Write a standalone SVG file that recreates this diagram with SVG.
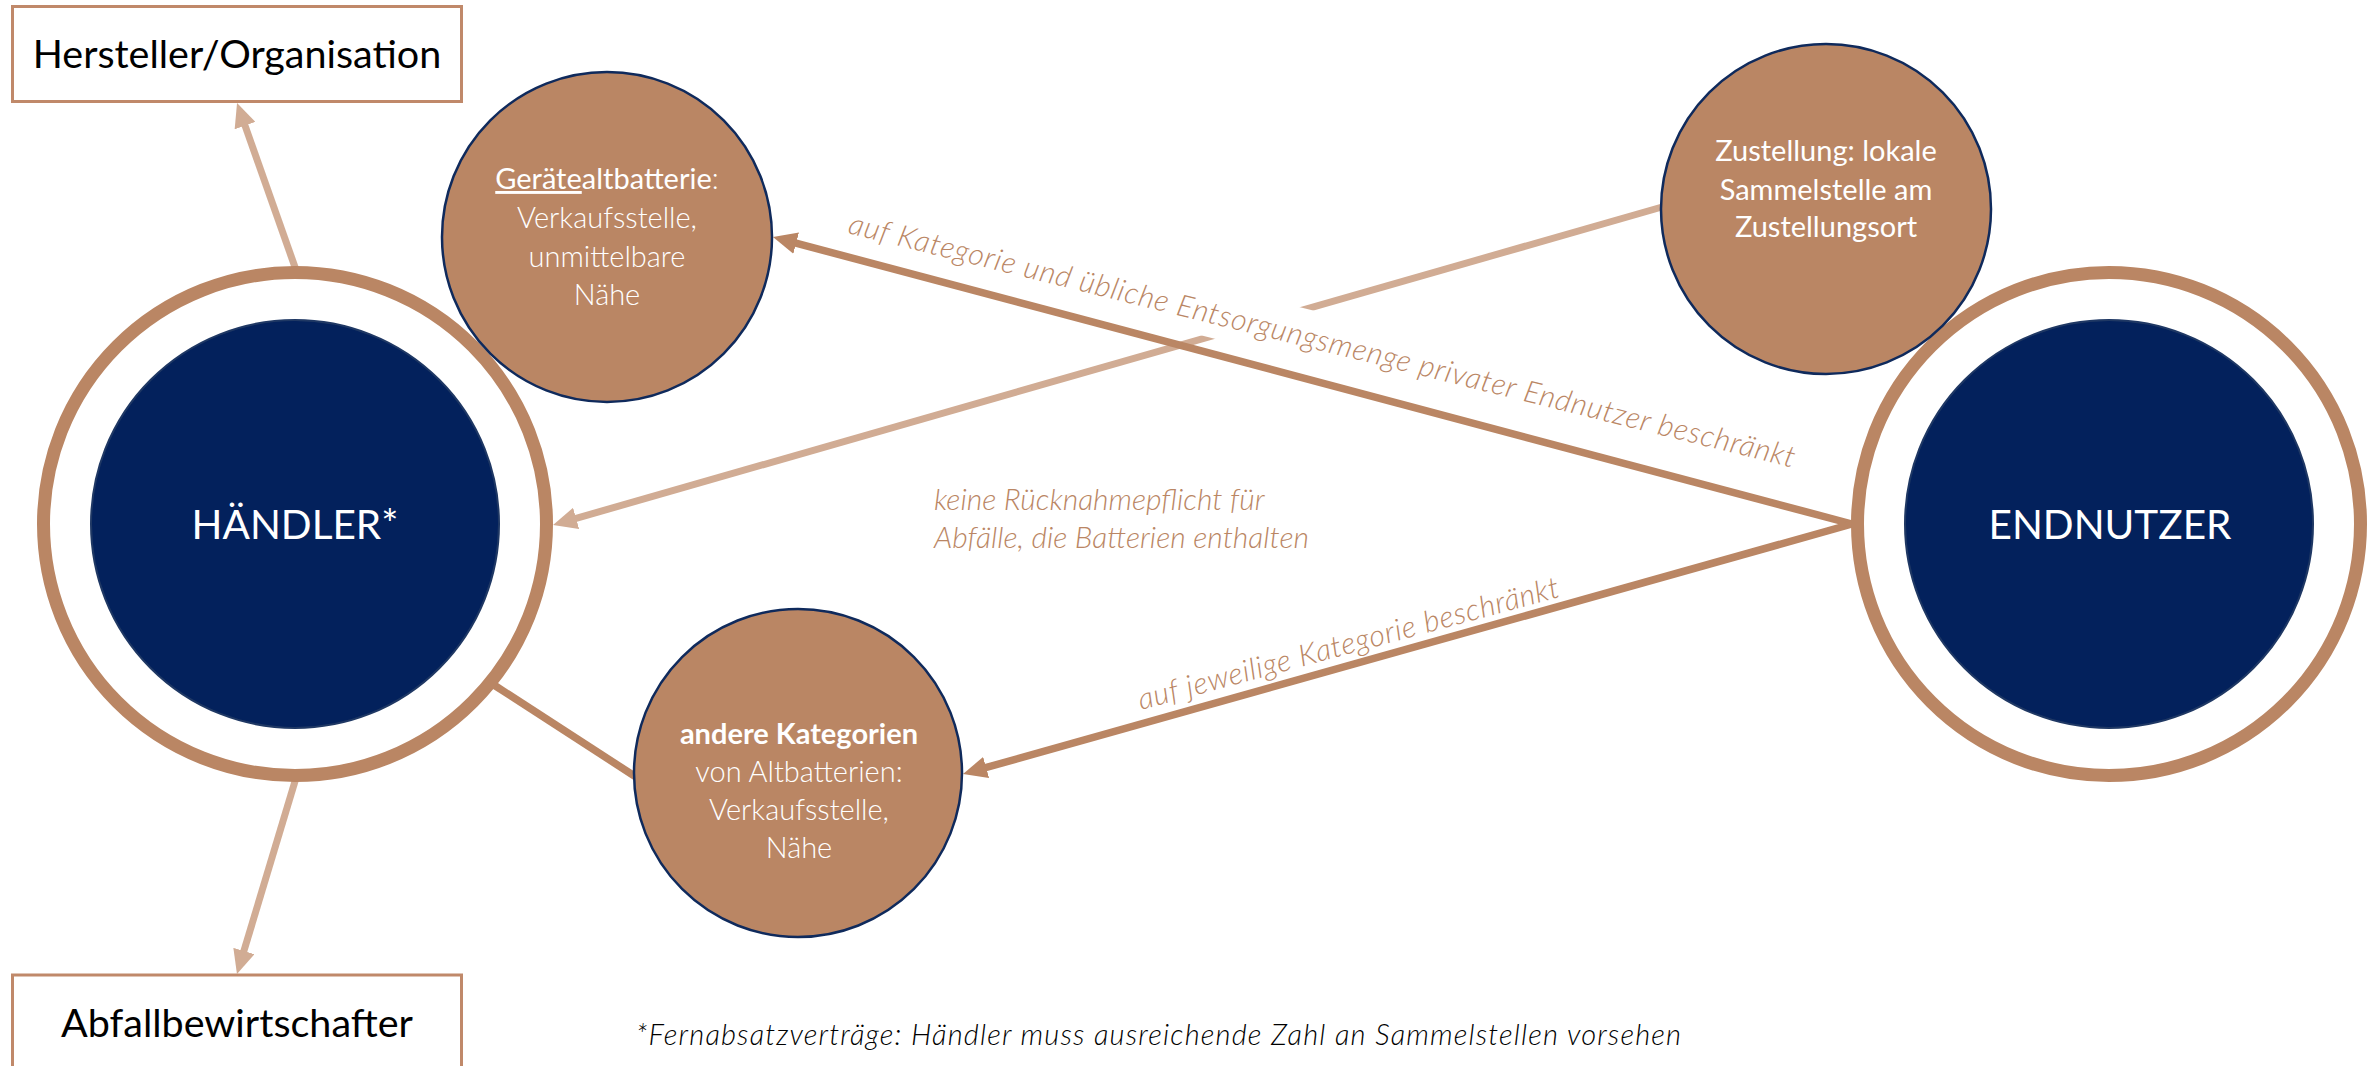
<svg xmlns="http://www.w3.org/2000/svg" width="2380" height="1066" viewBox="0 0 2380 1066">
  <style>
    .box { fill: #ffffff; stroke: #C0896A; stroke-width: 3; }
    .boxtxt { font-family: Lato, "Liberation Sans", sans-serif; font-size: 39.5px; fill: #000000; text-anchor: middle; }
    .ring { fill: #ffffff; stroke: #BA8664; stroke-width: 13; }
    .core { fill: #03215C; stroke: #1F3864; stroke-width: 2; }
    .coretxt { font-family: Lato, "Liberation Sans", sans-serif; font-size: 40.5px; fill: #ffffff; text-anchor: middle; }
    .spot { fill: #BA8664; stroke: #0F2A5C; stroke-width: 2.5; }
    .spottxt { font-family: Lato, "Liberation Sans", sans-serif; font-size: 29px; fill: #ffffff; text-anchor: middle; }
    .light { font-weight: 300; }
    .dark { stroke: #BA8664; stroke-width: 7.5; fill: none; }
    .pale { stroke: #D1AC94; stroke-width: 7; fill: none; }
    .lbl { font-family: Lato, "Liberation Sans", sans-serif; font-style: italic; font-weight: 300; font-size: 30px; fill: #BA8664; }
    .note { font-family: Lato, "Liberation Sans", sans-serif; font-style: italic; font-weight: 300; font-size: 29px; fill: #000000; }
  </style>
  <defs>
    <marker id="headDark" markerUnits="userSpaceOnUse" markerWidth="24" markerHeight="22" viewBox="0 0 24 22" refX="10" refY="11" orient="auto">
      <path d="M0,0 L24,11 L0,22 z" fill="#BA8664"/>
    </marker>
    <marker id="headPale" markerUnits="userSpaceOnUse" markerWidth="24" markerHeight="22" viewBox="0 0 24 22" refX="10" refY="11" orient="auto">
      <path d="M0,0 L24,11 L0,22 z" fill="#D1AC94"/>
    </marker>
  </defs>

  <rect width="2380" height="1066" fill="#ffffff"/>

  <!-- connectors -->
  <g id="connectors">
    <line class="pale" x1="296" y1="270" x2="241.7" y2="116.2" marker-end="url(#headPale)"/>
    <line class="pale" x1="296" y1="778" x2="241" y2="960.6" marker-end="url(#headPale)"/>
    <line class="pale" x1="1662" y1="207" x2="566.5" y2="521.1" marker-end="url(#headPale)"/>

    <!-- label on the upper return path, with its white text box -->
    <g id="label-geraete" transform="translate(847 233) rotate(13.94)">
      <rect x="-8" y="-37" width="990" height="51" fill="#ffffff"/>
      <text class="lbl" x="0" y="0" textLength="974" lengthAdjust="spacing">auf Kategorie und übliche Entsorgungsmenge privater Endnutzer beschränkt</text>
    </g>

    <line class="dark" x1="1852" y1="524" x2="786.5" y2="240.6" marker-end="url(#headDark)"/>
    <line class="dark" x1="1852" y1="524" x2="976.5" y2="770.2" marker-end="url(#headDark)"/>
    <line class="dark" x1="494" y1="685" x2="636" y2="777"/>

    <g id="label-andere" transform="translate(1141 710) rotate(-15.1)">
      <text class="lbl" x="0" y="0" textLength="435" lengthAdjust="spacing">auf jeweilige Kategorie beschränkt</text>
    </g>

    <g id="label-keine">
      <text class="lbl" x="934" y="510">keine Rücknahmepflicht für</text>
      <text class="lbl" x="934" y="548">Abfälle, die Batterien enthalten</text>
    </g>
  </g>

  <!-- nodes -->
  <g id="hersteller">
    <rect class="box" x="12.5" y="6.5" width="449" height="95"/>
    <text class="boxtxt" x="237" y="68">Hersteller/Organisation</text>
  </g>

  <g id="abfallbewirtschafter">
    <rect class="box" x="12.5" y="975" width="449" height="200"/>
    <text class="boxtxt" x="237" y="1037">Abfallbewirtschafter</text>
  </g>

  <g id="haendler">
    <circle class="ring" cx="295" cy="524" r="251.5"/>
    <circle class="core" cx="295" cy="524" r="204"/>
    <text class="coretxt" x="295" y="539">HÄNDLER*</text>
  </g>

  <g id="endnutzer">
    <circle class="ring" cx="2109" cy="524" r="251.5"/>
    <circle class="core" cx="2109" cy="524" r="204"/>
    <text class="coretxt" x="2110" y="539">ENDNUTZER</text>
  </g>

  <g id="geraetealtbatterie">
    <circle class="spot" cx="607" cy="237" r="165"/>
    <text class="spottxt" x="607" y="189"><tspan text-decoration="underline">Geräte</tspan>altbatterie<tspan class="light">:</tspan></text>
    <text class="spottxt light" x="607" y="228">Verkaufsstelle,</text>
    <text class="spottxt light" x="607" y="266.5">unmittelbare</text>
    <text class="spottxt light" x="607" y="305">Nähe</text>
  </g>

  <g id="zustellung">
    <circle class="spot" cx="1826" cy="209" r="165"/>
    <text class="spottxt" x="1826" y="161">Zustellung: lokale</text>
    <text class="spottxt" x="1826" y="200">Sammelstelle am</text>
    <text class="spottxt" x="1826" y="237">Zustellungsort</text>
  </g>

  <g id="andere-kategorien">
    <circle class="spot" cx="798" cy="773" r="164"/>
    <text class="spottxt" x="799" y="744" font-weight="700">andere Kategorien</text>
    <text class="spottxt light" x="799" y="782">von Altbatterien:</text>
    <text class="spottxt light" x="799" y="820">Verkaufsstelle,</text>
    <text class="spottxt light" x="799" y="857.5">Nähe</text>
  </g>

  <text class="note" x="636" y="1045" textLength="1045" lengthAdjust="spacing">*Fernabsatzverträge: Händler muss ausreichende Zahl an Sammelstellen vorsehen</text>
</svg>
